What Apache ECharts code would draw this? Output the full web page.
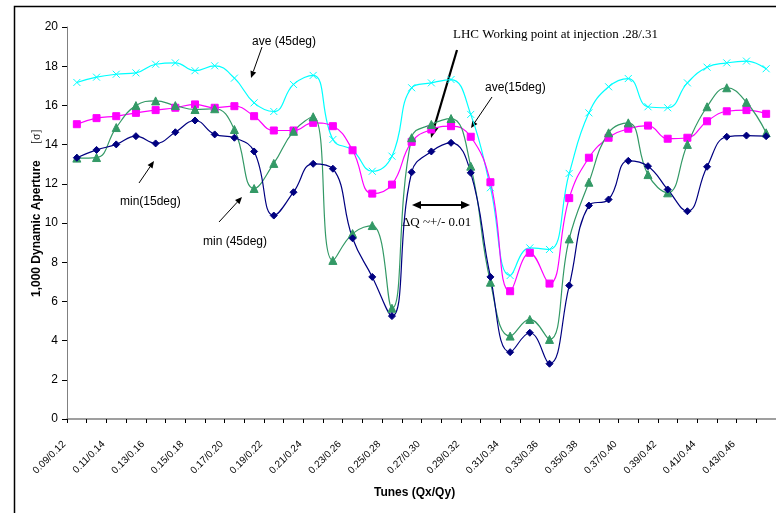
<!DOCTYPE html>
<html><head><meta charset="utf-8">
<script src="https://cdn.jsdelivr.net/npm/echarts@6/dist/echarts.min.js"></script>
<style>html,body{margin:0;padding:0;background:#fff}#c{width:776px;height:513px}</style>
</head><body><div id="c"></div>
<script>
var categories = ['0.09/0.12','0.10/0.13','0.11/0.14','0.12/0.15','0.13/0.16','0.14/0.17','0.15/0.18','0.16/0.19','0.17/0.20','0.18/0.21','0.19/0.22','0.20/0.23','0.21/0.24','0.22/0.25','0.23/0.26','0.24/0.27','0.25/0.28','0.26/0.29','0.27/0.30','0.28/0.31','0.29/0.32','0.30/0.33','0.31/0.34','0.32/0.35','0.33/0.36','0.34/0.37','0.35/0.38','0.36/0.39','0.37/0.40','0.38/0.41','0.39/0.42','0.40/0.43','0.41/0.44','0.42/0.45','0.43/0.46','0.44/0.47'];
var ave45 = [17.17,17.44,17.59,17.66,18.10,18.17,17.77,18.02,17.39,16.13,15.69,17.07,17.53,14.26,13.71,12.64,13.41,16.90,17.15,17.32,15.54,11.80,7.32,8.73,8.65,12.53,15.62,16.95,17.37,15.93,15.88,17.15,17.95,18.17,18.26,17.87];
var ave15 = [15.04,15.35,15.45,15.62,15.76,15.88,16.05,15.88,15.96,15.45,14.72,14.72,15.11,14.94,13.71,11.50,11.96,14.14,14.77,14.94,14.40,12.08,6.52,8.48,6.91,11.27,13.33,14.35,14.81,14.97,14.30,14.35,15.19,15.70,15.76,15.57];
var min45 = [13.31,13.34,14.87,15.99,16.23,15.99,15.79,15.83,14.77,11.76,13.04,14.68,15.42,8.09,9.46,9.87,5.65,14.35,15.03,15.33,12.90,6.98,4.23,5.08,4.06,9.19,12.08,14.60,15.11,12.47,11.54,14.01,15.93,16.90,16.16,14.60];
var min15 = [13.33,13.73,14.01,14.43,14.06,14.63,15.23,14.52,14.35,13.65,10.38,11.57,13.02,12.77,9.22,7.25,5.25,12.59,13.65,14.09,12.56,7.25,3.41,4.40,2.82,6.81,10.89,11.20,13.17,12.90,11.71,10.60,12.87,14.40,14.46,14.43];
var yTicks = [0,2,4,6,8,10,12,14,16,18,20];

var chart = echarts.init(document.getElementById('c'));
var F = 'Liberation Sans, Arial, sans-serif';
var T = 'Liberation Serif, Times New Roman, serif';
function ser(name, data, color, symbol, size) {
  return {name:name, type:'line', data:data, smooth:0.45, symbol:symbol, symbolSize:size,
    showSymbol:true, lineStyle:{color:color, width:1.2},
    itemStyle:{color:color, borderColor:color, borderWidth:1}, z:3};
}
function arrow(x1,y1,x2,y2,w,hl,hw){
  var dx=x2-x1, dy=y2-y1, L=Math.sqrt(dx*dx+dy*dy), ux=dx/L, uy=dy/L;
  var bx=x2-ux*hl, by=y2-uy*hl;
  return [
    {type:'line', shape:{x1:x1,y1:y1,x2:bx,y2:by}, style:{stroke:'#000', lineWidth:w}},
    {type:'polygon', shape:{points:[[x2,y2],[bx-uy*hw,by+ux*hw],[bx+uy*hw,by-ux*hw]]}, style:{fill:'#000'}}
  ];
}
var g = [
  {type:'rect', shape:{x:14.5,y:6.5,width:900,height:700}, style:{fill:'none', stroke:'#000', lineWidth:1.5}, z:0},
  {type:'text', x:252, y:42, style:{text:'ave (45deg)', font:'12px '+F, fill:'#000', textVerticalAlign:'middle'}},
  {type:'text', x:453, y:35, style:{text:'LHC Working point at injection .28/.31', font:'13px '+T, fill:'#000', textVerticalAlign:'middle'}},
  {type:'text', x:485, y:88, style:{text:'ave(15deg)', font:'12px '+F, fill:'#000', textVerticalAlign:'middle'}},
  {type:'text', x:120, y:202, style:{text:'min(15deg)', font:'12px '+F, fill:'#000', textVerticalAlign:'middle'}},
  {type:'text', x:203, y:242, style:{text:'min (45deg)', font:'12px '+F, fill:'#000', textVerticalAlign:'middle'}},
  {type:'text', x:402, y:223, style:{text:'\u0394Q ~+/- 0.01', font:'13px '+T, fill:'#000', textVerticalAlign:'middle'}},
  {type:'text', x:374, y:493, style:{text:'Tunes (Qx/Qy)', font:'bold 12px '+F, fill:'#000', textVerticalAlign:'middle'}},
  {type:'text', x:37, y:297, rotation:Math.PI/2, style:{text:'1,000 Dynamic Aperture', font:'bold 12px '+F, fill:'#000', textVerticalAlign:'middle'}},
  {type:'text', x:37, y:144, rotation:Math.PI/2, style:{text:'[\u03c3]', font:'12px '+T, fill:'#000', textVerticalAlign:'middle'}}
];
g = g.concat(arrow(262,47,251,78,1,7,3));
g = g.concat(arrow(457,50,431,138,2.2,12,4.5));
g = g.concat(arrow(492,97,471,128,1,7,3));
g = g.concat(arrow(139,183,154,161,1,7,3));
g = g.concat(arrow(219,222,242,197,1,7,3));
g = g.concat(arrow(440,205,412,205,2,9,4));
g = g.concat(arrow(440,205,470,205,2,9,4));

chart.setOption({
  animation:false,
  backgroundColor:'#fff',
  grid:{left:67, right:-1, top:27, bottom:94, containLabel:false},
  xAxis:{type:'category', data:categories, boundaryGap:true,
    axisLine:{lineStyle:{color:'#808080', width:1.5}},
    axisTick:{show:true, interval:0, length:4, lineStyle:{color:'#000'}},
    axisLabel:{interval:1, rotate:45, fontFamily:F, fontSize:10, color:'#000', margin:11, padding:[0,18,0,0]},
    splitLine:{show:false}},
  yAxis:{type:'value', min:yTicks[0], max:yTicks[yTicks.length-1], interval:2,
    axisLine:{show:true, lineStyle:{color:'#808080', width:1}},
    axisTick:{show:true, length:5, inside:false, lineStyle:{color:'#000'}},
    axisLabel:{fontFamily:F, fontSize:12, color:'#000', margin:9},
    splitLine:{show:false}},
  series:[
    ser('ave (45deg)', ave45, '#00ffff', 'path://M0,0L10,10M10,0L0,10', 7),
    ser('ave(15deg)', ave15, '#ff00ff', 'rect', 7),
    ser('min (45deg)', min45, '#339966', 'triangle', 8),
    ser('min(15deg)', min15, '#000080', 'diamond', 7)
  ],
  graphic:g
});
</script></body></html>
